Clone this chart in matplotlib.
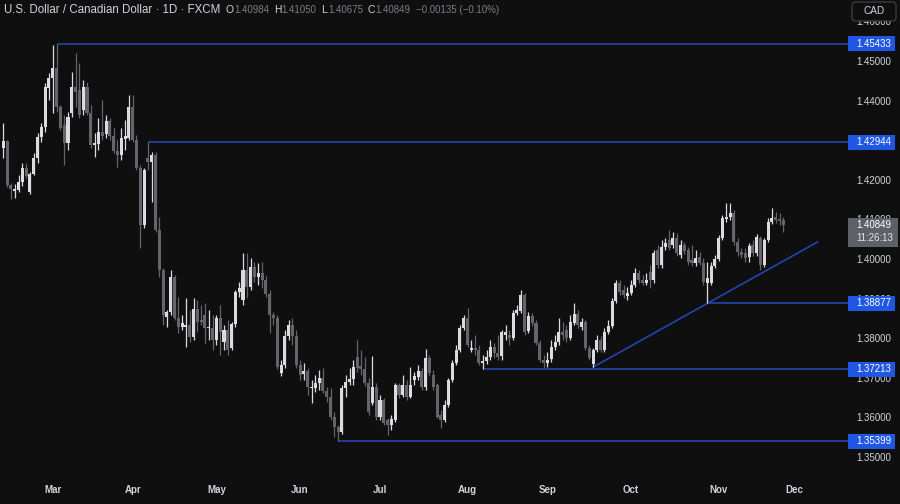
import numpy as np
import matplotlib.pyplot as plt
from matplotlib.patches import Rectangle, FancyBboxPatch
from matplotlib.transforms import IdentityTransform

# daily USD/CAD candles (bar 0 = mid Feb, bar 205 = Nov 26)
opens = [
    1.4280, 1.4298, 1.4187, 1.4172, 1.4174, 1.4194, 1.4230, 1.4169, 1.4215, 1.4255,
    1.4308, 1.4333, 1.4432, 1.4457, 1.4482, 1.4384, 1.4338, 1.4293, 1.4369, 1.4434,
    1.4427, 1.4376, 1.4434, 1.4369, 1.4288, 1.4290, 1.4321, 1.4316, 1.4348, 1.4311,
    1.4273, 1.4263, 1.4303, 1.4306, 1.4384, 1.4300, 1.4230, 1.4086, 1.4255, 1.4245,
    1.4263, 1.4073, 1.3972, 1.3854, 1.3866, 1.3955, 1.3851, 1.3828, 1.3828, 1.3833,
    1.3803, 1.3874, 1.3846, 1.3859, 1.3826, 1.3826, 1.3796, 1.3851, 1.3790, 1.3821,
    1.3775, 1.3836, 1.3917, 1.3897, 1.3972, 1.3929, 1.3980, 1.3955, 1.3965, 1.3947,
    1.3912, 1.3859, 1.3851, 1.3712, 1.3732, 1.3806, 1.3833, 1.3806, 1.3732, 1.3710,
    1.3717, 1.3674, 1.3674, 1.3687, 1.3700, 1.3667, 1.3652, 1.3601, 1.3576, 1.3563,
    1.3674, 1.3690, 1.3697, 1.3753, 1.3730, 1.3722, 1.3687, 1.3636, 1.3677, 1.3601,
    1.3644, 1.3594, 1.3581, 1.3594, 1.3682, 1.3657, 1.3682, 1.3652, 1.3695, 1.3702,
    1.3717, 1.3677, 1.3750, 1.3707, 1.3682, 1.3606, 1.3594, 1.3631, 1.3695, 1.3737,
    1.3770, 1.3826, 1.3851, 1.3770, 1.3775, 1.3770, 1.3737, 1.3742, 1.3753, 1.3778,
    1.3763, 1.3755, 1.3808, 1.3808, 1.3801, 1.3864, 1.3869, 1.3909, 1.3818, 1.3856,
    1.3838, 1.3788, 1.3745, 1.3737, 1.3748, 1.3778, 1.3790, 1.3816, 1.3821, 1.3801,
    1.3838, 1.3861, 1.3828, 1.3841, 1.3775, 1.3735, 1.3770, 1.3796, 1.3770, 1.3816,
    1.3831, 1.3894, 1.3939, 1.3922, 1.3907, 1.3914, 1.3934, 1.3965, 1.3947, 1.3939,
    1.3967, 1.3947, 1.4023, 1.3985, 1.4030, 1.4048, 1.4035, 1.4053, 1.4010, 1.4035,
    1.4023, 1.3997, 1.3990, 1.4005, 1.3990, 1.3939, 1.3939, 1.3982, 1.4000, 1.4053,
    1.4101, 1.4106, 1.4116, 1.4043, 1.4018, 1.4015, 1.4005, 1.4035, 1.4015, 1.4053,
    1.3985, 1.4048, 1.4093, 1.4106, 1.4101, 1.40984,
]
highs = [
    1.4343, 1.4300, 1.4192, 1.4189, 1.4212, 1.4242, 1.4242, 1.4220, 1.4268, 1.4318,
    1.4343, 1.4444, 1.4470, 1.4540, 1.45433, 1.4389, 1.4364, 1.4371, 1.4472, 1.4520,
    1.4495, 1.4452, 1.4447, 1.4389, 1.4318, 1.4356, 1.4402, 1.4364, 1.4356, 1.4331,
    1.4300, 1.4331, 1.4351, 1.4414, 1.4414, 1.4313, 1.4237, 1.4230, 1.42944, 1.4270,
    1.4270, 1.4106, 1.3977, 1.3871, 1.3972, 1.3960, 1.3904, 1.3859, 1.3902, 1.3871,
    1.3902, 1.3897, 1.3884, 1.3889, 1.3871, 1.3859, 1.3859, 1.3884, 1.3833, 1.3846,
    1.3841, 1.3922, 1.3942, 1.4015, 1.4015, 1.4003, 1.3992, 1.3990, 1.3992, 1.3957,
    1.3922, 1.3866, 1.3859, 1.3745, 1.3821, 1.3846, 1.3851, 1.3821, 1.3745, 1.3737,
    1.3725, 1.3695, 1.3707, 1.3720, 1.3725, 1.3677, 1.3674, 1.3614, 1.3581, 1.3682,
    1.3707, 1.3725, 1.3745, 1.3796, 1.3770, 1.3753, 1.3700, 1.3755, 1.3687, 1.3657,
    1.3649, 1.3599, 1.3606, 1.3687, 1.3687, 1.3707, 1.3695, 1.3727, 1.3715, 1.3732,
    1.3725, 1.3773, 1.3758, 1.3720, 1.3687, 1.3619, 1.3644, 1.3700, 1.3745, 1.3783,
    1.3833, 1.3859, 1.3876, 1.3796, 1.3808, 1.3783, 1.3758, 1.3770, 1.3796, 1.3788,
    1.3808, 1.3821, 1.3833, 1.3821, 1.3871, 1.3884, 1.3922, 1.3914, 1.3866, 1.3864,
    1.3846, 1.3796, 1.3758, 1.3765, 1.3796, 1.3808, 1.3851, 1.3841, 1.3833, 1.3859,
    1.3889, 1.3871, 1.3851, 1.3846, 1.3783, 1.3775, 1.3808, 1.3806, 1.3826, 1.3846,
    1.3902, 1.3947, 1.3947, 1.3934, 1.3929, 1.3947, 1.3977, 1.3972, 1.3960, 1.3965,
    1.3985, 1.4023, 1.4035, 1.4048, 1.4053, 1.4073, 1.4068, 1.4066, 1.4048, 1.4043,
    1.4030, 1.4035, 1.4023, 1.4018, 1.4003, 1.3992, 1.3992, 1.4010, 1.4061, 1.4111,
    1.4141, 1.4141, 1.4124, 1.4053, 1.4028, 1.4028, 1.4040, 1.4048, 1.4063, 1.4058,
    1.4053, 1.4104, 1.4129, 1.4119, 1.4116, 1.41050,
]
lows = [
    1.4255, 1.4182, 1.4152, 1.4154, 1.4169, 1.4184, 1.4205, 1.4164, 1.4212, 1.4242,
    1.4295, 1.4321, 1.4402, 1.4369, 1.4371, 1.4326, 1.4237, 1.4275, 1.4359, 1.4384,
    1.4356, 1.4364, 1.4364, 1.4280, 1.4258, 1.4275, 1.4300, 1.4306, 1.4300, 1.4268,
    1.4232, 1.4250, 1.4275, 1.4300, 1.4295, 1.4225, 1.4028, 1.4078, 1.4225, 1.4144,
    1.4068, 1.3955, 1.3833, 1.3828, 1.3859, 1.3846, 1.3813, 1.3821, 1.3778, 1.3790,
    1.3796, 1.3816, 1.3833, 1.3788, 1.3796, 1.3770, 1.3783, 1.3758, 1.3770, 1.3758,
    1.3770, 1.3828, 1.3904, 1.3884, 1.3902, 1.3922, 1.3942, 1.3934, 1.3927, 1.3904,
    1.3813, 1.3833, 1.3723, 1.3705, 1.3725, 1.3796, 1.3783, 1.3725, 1.3695, 1.3695,
    1.3657, 1.3636, 1.3664, 1.3669, 1.3662, 1.3639, 1.3594, 1.3551, 1.35399, 1.3558,
    1.3652, 1.3682, 1.3682, 1.3715, 1.3707, 1.3679, 1.3606, 1.3631, 1.3594, 1.3594,
    1.3581, 1.3556, 1.3568, 1.3588, 1.3649, 1.3652, 1.3644, 1.3649, 1.3682, 1.3695,
    1.3669, 1.3669, 1.3705, 1.3669, 1.3599, 1.3573, 1.3588, 1.3626, 1.3690, 1.3732,
    1.3765, 1.3821, 1.3778, 1.3765, 1.3758, 1.3732, 1.37213, 1.3735, 1.3745, 1.3750,
    1.3745, 1.3745, 1.3796, 1.3783, 1.3796, 1.3859, 1.3864, 1.3808, 1.3813, 1.3831,
    1.3783, 1.3740, 1.3725, 1.3727, 1.3740, 1.3770, 1.3783, 1.3796, 1.3790, 1.3796,
    1.3833, 1.3826, 1.3821, 1.3770, 1.3745, 1.3727, 1.3765, 1.3765, 1.3765, 1.3811,
    1.3826, 1.3889, 1.3909, 1.3902, 1.3897, 1.3909, 1.3929, 1.3939, 1.3934, 1.3934,
    1.3927, 1.3939, 1.3977, 1.3977, 1.4023, 1.4023, 1.4028, 1.4008, 1.4003, 1.4013,
    1.3985, 1.3982, 1.3982, 1.3985, 1.3934, 1.38877, 1.3934, 1.3977, 1.3995, 1.4048,
    1.4093, 1.4098, 1.4035, 1.4008, 1.4003, 1.3992, 1.3992, 1.4008, 1.4008, 1.3972,
    1.3980, 1.4043, 1.4088, 1.4091, 1.4086, 1.40675,
]
closes = [
    1.4298, 1.4187, 1.4177, 1.4177, 1.4194, 1.4230, 1.4210, 1.4215, 1.4255, 1.4308,
    1.4333, 1.4434, 1.4457, 1.4482, 1.4384, 1.4331, 1.4293, 1.4359, 1.4434, 1.4422,
    1.4364, 1.4434, 1.4369, 1.4288, 1.4293, 1.4321, 1.4311, 1.4348, 1.4311, 1.4273,
    1.4263, 1.4306, 1.4311, 1.4384, 1.4300, 1.4230, 1.4086, 1.4225, 1.4245, 1.4263,
    1.4073, 1.3972, 1.3859, 1.3866, 1.3955, 1.3851, 1.3828, 1.3838, 1.3833, 1.3803,
    1.3874, 1.3841, 1.3841, 1.3826, 1.3828, 1.3796, 1.3851, 1.3816, 1.3821, 1.3770,
    1.3836, 1.3917, 1.3927, 1.3972, 1.3929, 1.3980, 1.3955, 1.3965, 1.3947, 1.3912,
    1.3859, 1.3851, 1.3727, 1.3732, 1.3806, 1.3833, 1.3806, 1.3732, 1.3707, 1.3717,
    1.3677, 1.3677, 1.3687, 1.3700, 1.3667, 1.3652, 1.3601, 1.3576, 1.3563, 1.3674,
    1.3690, 1.3697, 1.3727, 1.3725, 1.3722, 1.3687, 1.3614, 1.3677, 1.3601, 1.3644,
    1.3586, 1.3581, 1.3596, 1.3682, 1.3657, 1.3682, 1.3652, 1.3682, 1.3705, 1.3717,
    1.3677, 1.3750, 1.3712, 1.3677, 1.3601, 1.3594, 1.3631, 1.3695, 1.3737, 1.3770,
    1.3826, 1.3851, 1.3783, 1.3775, 1.3770, 1.3737, 1.3742, 1.3753, 1.3778, 1.3763,
    1.3753, 1.3816, 1.3816, 1.3801, 1.3864, 1.3871, 1.3909, 1.3816, 1.3856, 1.3838,
    1.3788, 1.3745, 1.3737, 1.3745, 1.3778, 1.3790, 1.3816, 1.3808, 1.3801, 1.3841,
    1.3861, 1.3833, 1.3841, 1.3775, 1.3750, 1.3770, 1.3796, 1.3770, 1.3816, 1.3831,
    1.3894, 1.3939, 1.3917, 1.3909, 1.3914, 1.3934, 1.3965, 1.3947, 1.3939, 1.3947,
    1.3947, 1.4015, 1.3985, 1.4030, 1.4040, 1.4028, 1.4053, 1.4015, 1.4035, 1.4020,
    1.3992, 1.3990, 1.4003, 1.3990, 1.3942, 1.3952, 1.3982, 1.4000, 1.4053, 1.4104,
    1.4106, 1.4116, 1.4043, 1.4018, 1.4010, 1.4003, 1.4033, 1.4015, 1.4056, 1.3985,
    1.4048, 1.4093, 1.4104, 1.4098, 1.4096, 1.40849,
]

# month labels sit on the first trading day of each month
month_labels = ['Mar', 'Apr', 'May', 'Jun', 'Jul', 'Aug', 'Sep', 'Oct', 'Nov', 'Dec']
month_bars = [13, 34, 56, 78, 99, 122, 143, 165, 188, 208]

# horizontal levels and the bar each one is drawn from
level_prices = [1.45433, 1.42944, 1.38877, 1.37213, 1.35399]
level_bars = [14, 38, 185, 126, 88]

# rising trendline through two swing lows
trend_bars = [155, 185]
trend_end = 214

price_ticks = [1.35, 1.36, 1.37, 1.38, 1.39, 1.40, 1.41, 1.42, 1.43, 1.44, 1.45, 1.46]
last_time = '11:26:13'
title = 'U.S. Dollar / Canadian Dollar · 1D · FXCM'
change_text = '\u22120.00135 (\u22120.10%)'

BG = '#0f0f0f'
UP = '#dcdce0'
DOWN = '#64656c'
LINE = '#2345ad'
TAG = '#1f56e2'
TXT = '#d1d4dc'
DIM = '#7b7e87'

plt.rcParams['font.family'] = ['Liberation Sans', 'DejaVu Sans']

fig = plt.figure(figsize=(9, 5.04), dpi=100, facecolor=BG)
ax = fig.add_axes([0, 26 / 504, 848 / 900, 478 / 504])
ax.set_facecolor(BG)
for s in ax.spines.values():
    s.set_visible(False)

x = np.arange(len(closes))
o = np.array(opens)
c = np.array(closes)
colors = np.where(c >= o, UP, DOWN)

# wicks then bodies
ax.vlines(x, lows, highs, colors=colors, linewidth=0.9, zorder=3)
body = np.maximum(np.abs(c - o), 0.0003)
ax.bar(x, body, bottom=np.minimum(o, c), width=0.8, color=colors, linewidth=0, zorder=4)

xmax = 222.0
ax.set_xlim(-0.87, xmax)
ax.set_ylim(1.344697, 1.46540)

# support / resistance levels with price tags on the scale
ytr = ax.get_yaxis_transform()
for p, b in zip(level_prices, level_bars):
    ax.hlines(p, b, xmax, color=LINE, linewidth=1.2, zorder=2)
    ax.add_patch(Rectangle((1.0, p - 0.0019), 47 / 848, 0.0038, transform=ytr,
                           facecolor=TAG, edgecolor='none', clip_on=False, zorder=10))
    ax.text(1 + 8 / 848, p, f'{p:.5f}', transform=ytr, color='white', fontsize=7,
            va='center', ha='left', clip_on=False, zorder=11)

# trendline
slope = (lows[trend_bars[1]] - lows[trend_bars[0]]) / (trend_bars[1] - trend_bars[0])
t_end = lows[trend_bars[0]] + slope * (trend_end - trend_bars[0])
ax.plot([trend_bars[0], trend_end], [lows[trend_bars[0]], t_end], color=LINE, linewidth=1.2, zorder=2)

# last price tag with countdown
last = closes[-1]
ax.add_patch(Rectangle((1.0, last - 0.0055), 50 / 848, 0.0074, transform=ytr,
                       facecolor='#5d6068', edgecolor='none', clip_on=False, zorder=10))
ax.text(1 + 8 / 848, last, f'{last:.5f}', transform=ytr, color='white', fontsize=7,
        va='center', ha='left', clip_on=False, zorder=11)
ax.text(1 + 8 / 848, last - 0.0033, last_time, transform=ytr, color='#e4e5ea', fontsize=7,
        va='center', ha='left', clip_on=False, zorder=11)

# axes ticks
ax.yaxis.tick_right()
ax.set_yticks(price_ticks)
ax.set_yticklabels([f'{v:.5f}' for v in price_ticks])
ax.tick_params(axis='y', length=0, pad=5.8, labelsize=7, labelcolor=TXT)
ax.set_xticks(month_bars)
ax.set_xticklabels(month_labels, fontweight='bold')
ax.tick_params(axis='x', length=0, pad=5, labelsize=7, labelcolor=TXT)

# header line, laid out left to right by measured width
renderer = fig.canvas.get_renderer()
cursor = 4.0
yh = 1 - 10 / 504


def put(s, color, gap, size=8.3):
    global cursor
    t = fig.text(cursor / 900, yh, s, color=color, fontsize=size, va='center')
    cursor += t.get_window_extent(renderer).width + gap


put(title, TXT, 5)
for lab, v in zip(['O', 'H', 'L', 'C'], [opens[-1], highs[-1], lows[-1], closes[-1]]):
    put(lab, TXT, 0.5, 7.4)
    put(f'{v:.5f}', DIM, 5, 7.0)
put(change_text, DIM, 0, 7.0)

# currency box top right
fig.patches.append(FancyBboxPatch((852, 504 - 21), 44, 19, boxstyle='round,pad=0,rounding_size=4',
                                  transform=IdentityTransform(), facecolor=BG,
                                  edgecolor='#3a3b3f', linewidth=1, zorder=20))
fig.text(874 / 900, 1 - 11 / 504, 'CAD', color=TXT, fontsize=7.2, ha='center', va='center', zorder=21)

fig.savefig('out.png', dpi=100, facecolor=BG)
